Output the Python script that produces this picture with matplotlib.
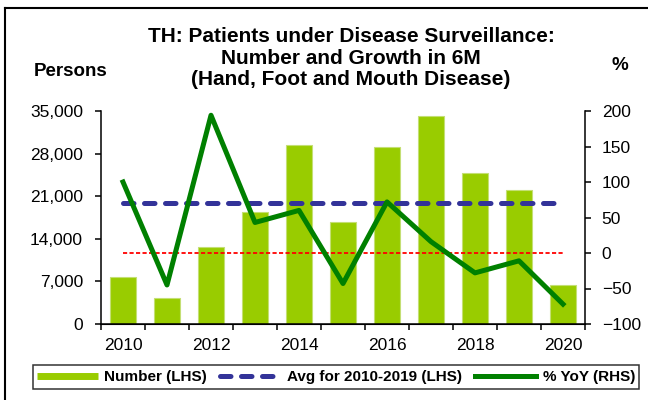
import matplotlib
matplotlib.use('Agg')
import matplotlib.pyplot as plt
from matplotlib.lines import Line2D
from matplotlib.ticker import FuncFormatter, MultipleLocator
import numpy as np

plt.rcParams['font.family'] = ['Liberation Sans', 'DejaVu Sans']

# ── Data ───────────────────────────────────────────────────────────────────
years = [2010, 2011, 2012, 2013, 2014, 2015, 2016, 2017, 2018, 2019, 2020]
patients = [7800, 4200, 12700, 18450, 29400, 16800, 29150, 34200, 24850, 22000, 6400]
yoy_pct = [100, -45, 194, 43, 60, -43, 72, 16, -28, -11, -72]
avg_2010_2019 = float(np.mean(patients[:10]))

BAR_GREEN = '#99CC00'
LINE_GREEN = '#008000'
AVG_BLUE = '#333399'

W, H = 648, 400
fig = plt.figure(figsize=(W / 100, H / 100), dpi=100)
fig.patch.set_facecolor('white')

ax = fig.add_axes([101 / W, 76 / H, 484 / W, 213 / H])
x = np.arange(len(years))

ax.bar(x, patients, width=0.57, color=BAR_GREEN, edgecolor='#c4df74',
       linewidth=0.8, zorder=2)
ax.plot([x[0], x[-1]], [avg_2010_2019, avg_2010_2019], color=AVG_BLUE, lw=3.6,
        ls=(0, (2.1, 2.1)), dash_capstyle='round', zorder=3)

ax.set_xlim(-0.5, len(years) - 0.5)
ax.set_ylim(0, 35000)
ax.yaxis.set_major_locator(MultipleLocator(7000))
ax.yaxis.set_major_formatter(FuncFormatter(lambda v, p: f'{v:,.0f}'))

# category ticks sit between bars, labels under every other bar
ax.set_xticks(np.arange(-0.5, len(years), 1.0))
ax.set_xticklabels([])
ax.set_xticks(x[::2], minor=True)
ax.set_xticklabels([str(y) for y in years[::2]], minor=True)
ax.tick_params(axis='x', which='major', direction='out', length=4, width=1.1)
ax.tick_params(axis='x', which='minor', length=0, pad=10, labelsize=12.5)
ax.tick_params(axis='y', direction='out', length=4, width=1.1, pad=9,
               labelsize=12.5)

for side in ['top', 'right']:
    ax.spines[side].set_visible(False)
for side in ['left', 'bottom']:
    ax.spines[side].set_linewidth(1.1)

ax2 = ax.twinx()
ax2.plot([x[0], x[-1]], [0, 0], color='#ff0000', lw=1.3, ls=(0, (2.3, 1.3)),
         zorder=2)
ax2.plot(x, yoy_pct, color=LINE_GREEN, lw=3.6, zorder=3)
ax2.set_ylim(-100, 200)
ax2.yaxis.set_major_locator(MultipleLocator(50))
ax2.tick_params(axis='y', direction='out', length=4, width=1.1, pad=8,
                labelsize=12.5)
ax2.spines['top'].set_visible(False)
ax2.spines['left'].set_visible(False)
ax2.spines['right'].set_linewidth(1.1)

# ── Titles / axis captions ────────────────────────────────────────────────
fig.text(351 / W, 1 - 58 / H,
         'TH: Patients under Disease Surveillance:\nNumber and Growth in 6M\n'
         '(Hand, Foot and Mouth Disease)',
         ha='center', va='center', fontsize=15, fontweight='bold',
         linespacing=1.17)
fig.text(71 / W, 1 - 71 / H, 'Persons', ha='center', va='center',
         fontsize=13.5, fontweight='bold')
fig.text(620 / W, 1 - 66 / H, '%', ha='center', va='center',
         fontsize=13.5, fontweight='bold')

# ── Legend ────────────────────────────────────────────────────────────────
handles = [
    Line2D([], [], color=BAR_GREEN, lw=5, solid_capstyle='butt'),
    Line2D([], [], color=AVG_BLUE, lw=3.6, ls=(0, (2.1, 2.1)),
           dash_capstyle='round'),
    Line2D([], [], color=LINE_GREEN, lw=3.6),
]
labels = ['Number (LHS)', 'Avg for 2010-2019 (LHS)', '% YoY (RHS)']
leg = fig.legend(handles, labels, loc='center', ncol=3,
                 bbox_to_anchor=(336 / W, 1 - 377 / H),
                 frameon=True, fancybox=False,
                 handlelength=4.0, handletextpad=0.4, columnspacing=0.85,
                 borderpad=0.3, borderaxespad=0,
                 prop={'size': 11, 'weight': 'bold'})
leg.get_frame().set_edgecolor('black')
leg.get_frame().set_linewidth(1.1)

# ── Outer frame (left and top edges visible in the crop) ──────────────────
fig.add_artist(Line2D([5 / W, 5 / W], [0, 1 - 8 / H], transform=fig.transFigure,
                      color='black', lw=1.5))
fig.add_artist(Line2D([5 / W, 1], [1 - 8 / H, 1 - 8 / H],
                      transform=fig.transFigure, color='black', lw=1.5))

fig.savefig('out.png', dpi=100)
